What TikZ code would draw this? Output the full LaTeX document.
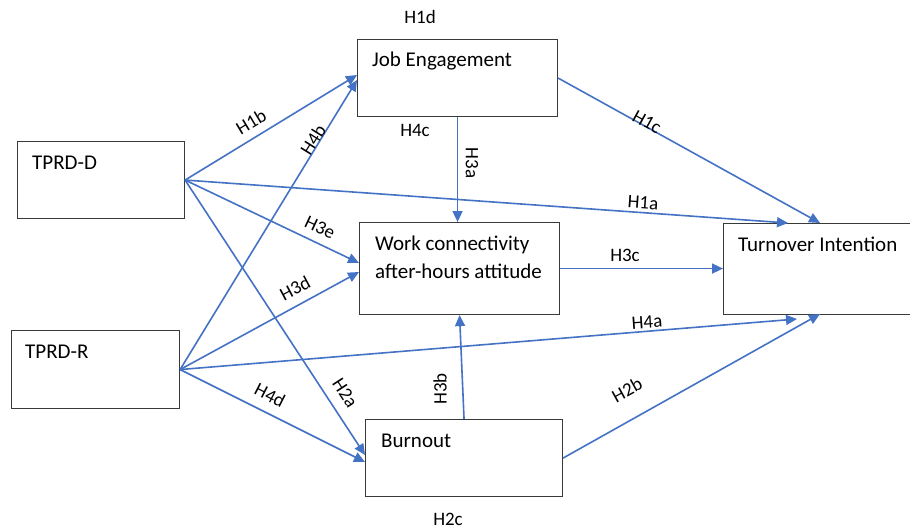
\documentclass[tikz,border=0pt]{standalone}
\usepackage{fontspec}
\setmainfont{Carlito}
\usetikzlibrary{arrows.meta}
\definecolor{ablue}{HTML}{4472C4}
\definecolor{bord}{HTML}{3A3A3A}
\begin{document}
\begin{tikzpicture}[x=1pt,y=-1pt,
  box/.style={draw=bord, line width=1.1pt, rectangle, anchor=north west, inner sep=0pt},
  btext/.style={anchor=base west, font=\fontsize{21}{28}\selectfont, inner sep=0pt},
  hyp/.style={font=\fontsize{19}{22}\selectfont, inner sep=0pt},
  link/.style={draw=ablue, line width=1.6pt, -{Triangle[length=11pt,width=10pt]}}]
\useasboundingbox (0,0) rectangle (910,531);
\fill[white] (0,0) rectangle (910,531);

% boxes
\node[box, minimum width=167pt, minimum height=77pt] (d) at (17,141) {};
\node[box, minimum width=168pt, minimum height=78pt] (r) at (11,330) {};
\node[box, minimum width=200pt, minimum height=77pt] (je) at (357,39) {};
\node[box, minimum width=200pt, minimum height=92pt] (wc) at (359,222) {};
\node[box, minimum width=192pt, minimum height=91pt] (ti) at (723,223) {};
\node[box, minimum width=197pt, minimum height=77pt] (bo) at (365,419) {};

% box texts
\node[btext] (dT) at (32,169) {TPRD-D};
\node[btext] (rT) at (25,358) {TPRD-R};
\node[btext] (jeT) at (372,66) {Job Engagement};
\node[btext] (wcT1) at (375,250) {Work connectivity};
\node[btext] (wcT2) at (375,278) {after-hours attitude};
\node[btext] (tiT) at (738,251) {Turnover Intention};
\node[btext] (boT) at (381,447) {Burnout};

% attachment points
\coordinate (jeA) at (357,75);
\coordinate (jeB) at (357,80);
\coordinate (wcA) at (359,263);
\coordinate (wcB) at (359,272);
\coordinate (boA) at (365,455);
\coordinate (boB) at (365,462);
\coordinate (tiA) at (788,223);
\coordinate (tiC) at (820,223);
\coordinate (tiD) at (797,319);
\coordinate (tiE) at (820,314);

% connectors
\draw[link] (d.east) -- (jeA);
\draw[link] (d.east) -- (tiA);
\draw[link] (d.east) -- (wcA);
\draw[link] (d.east) -- (boA);
\draw[link] (r.east) -- (jeB);
\draw[link] (r.east) -- (wcB);
\draw[link] (r.east) -- (tiD);
\draw[link] (r.east) -- (boB);
\draw[link] (je.east) -- (tiC);
\draw[link] (je.south) -- (je.south |- wc.north);
\draw[link] (wc.east) -- (wc.east -| ti.west);
\draw[link] (bo.north) -- (wc.south);
\draw[link] (bo.east) -- (tiE);

% hypothesis labels
\node[hyp] (h1d) at (420,17) {H1d};
\node[hyp] (h4c) at (415,130) {H4c};
\node[hyp] (h2c) at (448,519) {H2c};
\node[hyp, rotate=31] (h1b) at (251,122) {H1b};
\node[hyp, rotate=58] (h4b) at (313,140) {H4b};
\node[hyp, rotate=-90] (h3a) at (472,163) {H3a};
\node[hyp, rotate=-25] (h3e) at (320,227) {H3e};
\node[hyp, rotate=28] (h3d) at (295,288) {H3d};
\node[hyp, rotate=-57] (h2a) at (345,393) {H2a};
\node[hyp, rotate=-27] (h4d) at (270,395) {H4d};
\node[hyp, rotate=90] (h3b) at (440,389) {H3b};
\node[hyp, rotate=-29] (h1c) at (647,122) {H1c};
\node[hyp, rotate=-4] (h1a) at (643,203) {H1a};
\node[hyp] (h3c) at (625,255) {H3c};
\node[hyp, rotate=4] (h4a) at (647,322) {H4a};
\node[hyp, rotate=29] (h2b) at (627,390) {H2b};
\end{tikzpicture}
\end{document}
